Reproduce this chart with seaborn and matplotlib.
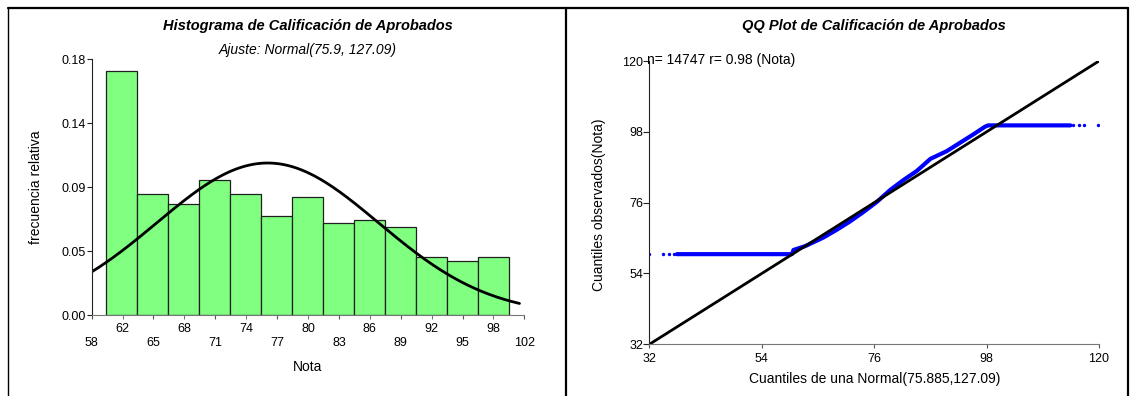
import matplotlib
matplotlib.use("Agg")
import matplotlib.pyplot as plt
import seaborn as sns
import numpy as np
import pandas as pd
from matplotlib.lines import Line2D

# --- Histogram (relative frequency per class) ---
bin_start = 59.48
bin_width = 3.15
rel_freq = [0.172, 0.085, 0.078, 0.095, 0.085, 0.070, 0.083,
            0.065, 0.067, 0.062, 0.041, 0.038, 0.041]
nota_tick_labels = ["58", "62", "65", "68", "71", "74", "77", "80",
                    "83", "86", "89", "92", "95", "98", "102"]
freq_tick_labels = ["0.00", "0.05", "0.09", "0.14", "0.18"]

# fitted normal shown over the histogram
fit_mean = 75.9
fit_var = 127.09
fit_peak = 0.107
fit_from, fit_to = 58, 101.5

# --- QQ plot ---
qq_band_x = [37.4, 59.9, 60.2, 62.5, 66.1, 68.7, 71.3, 73.9, 76.5, 79.1,
             81.7, 84.3, 87.0, 90.2, 92.8, 95.4, 97.7, 98.3, 114.4]
qq_band_y = [60.0, 60.0, 61.3, 62.5, 65.2, 67.6, 70.2, 73.1, 76.2, 79.9,
             83.0, 85.8, 89.6, 92.0, 94.6, 97.2, 99.6, 100.0, 100.0]
qq_dots_x = [32.0, 34.6, 35.9, 36.9, 115.0, 116.0, 117.1, 119.8]
qq_dots_y = [60, 60, 60, 60, 100, 100, 100, 100]
ref_line = [32, 120]
qq_ticks = [32, 54, 76, 98, 120]

sns.set_style("white")
plt.rcParams['font.family'] = ['Liberation Sans', 'DejaVu Sans']
plt.rcParams['text.color'] = 'black'
plt.rcParams['axes.labelcolor'] = 'black'
plt.rcParams['xtick.labelcolor'] = 'black'
plt.rcParams['ytick.labelcolor'] = 'black'

W, H = 1135, 396
fig = plt.figure(figsize=(W / 100, H / 100), dpi=100)

# panel frames
line_kw = dict(color="black", transform=fig.transFigure)
fig.add_artist(Line2D([8 / W, 1128 / W], [1 - 7.5 / H] * 2, lw=1.6, **line_kw))
fig.add_artist(Line2D([8.3 / W] * 2, [0, 1 - 7.5 / H], lw=1.0, **line_kw))
fig.add_artist(Line2D([565.7 / W] * 2, [0, 1 - 7.5 / H], lw=1.6, **line_kw))
fig.add_artist(Line2D([1128 / W] * 2, [0, 1 - 7.5 / H], lw=1.6, **line_kw))

tick_fs = 9
lab_fs = 10

# ---------------- Histogram ----------------
ax1 = fig.add_axes([91.6 / W, 1 - 315 / H, 432.8 / W, 255.7 / H])
edges = bin_start + bin_width * np.arange(len(rel_freq) + 1)
hist_df = pd.DataFrame({"nota": (edges[:-1] + edges[1:]) / 2, "frec": rel_freq})
sns.histplot(data=hist_df, x="nota", weights="frec", bins=list(edges), ax=ax1,
             color="#80ff80", alpha=1, edgecolor="#202020", linewidth=0.9)

xs = np.linspace(fit_from, fit_to, 300)
ys = fit_peak * np.exp(-(xs - fit_mean) ** 2 / (2 * fit_var))
sns.lineplot(x=xs, y=ys, ax=ax1, color="black", lw=2.0)

ax1.set_xlim(58, 102)
ax1.set_ylim(0, 0.18)
pos = np.linspace(58, 102, len(nota_tick_labels))
ax1.set_xticks(pos[0::2])
ax1.set_xticklabels(nota_tick_labels[0::2], fontsize=tick_fs)
ax1.set_xticks(pos[1::2], minor=True)
ax1.set_xticklabels(nota_tick_labels[1::2], minor=True, fontsize=tick_fs)
ax1.tick_params(axis="x", which="major", length=3, pad=13, color="#555555")
ax1.tick_params(axis="x", which="minor", length=3, pad=3, color="#555555")
ax1.set_yticks(np.linspace(0, 0.18, 5))
ax1.set_yticklabels(freq_tick_labels, fontsize=tick_fs)
ax1.tick_params(axis="y", length=3.5, pad=0.5, color="#222222")
ax1.tick_params(axis="both", bottom=True, left=True, which="both")

ax1.set_xlabel("Nota", fontsize=lab_fs)
ax1.xaxis.set_label_coords(0.5, -0.202)
ax1.xaxis.label.set_va("center")
ax1.set_ylabel("frecuencia relativa", fontsize=lab_fs)
ax1.yaxis.set_label_coords(-0.1285, 0.5)
ax1.yaxis.label.set_va("center")

for s in ["top", "right"]:
    ax1.spines[s].set_visible(False)
ax1.spines["left"].set_color("#222222")
ax1.spines["bottom"].set_color("#777777")
ax1.spines["left"].set_linewidth(0.8)
ax1.spines["bottom"].set_linewidth(0.8)

ax1.text(0.5, 1.130, "Histograma de Calificación de Aprobados", transform=ax1.transAxes,
         ha="center", va="center", fontsize=10.5, fontweight="bold", fontstyle="italic")
ax1.text(0.5, 1.036, "Ajuste: Normal(75.9, 127.09)", transform=ax1.transAxes,
         ha="center", va="center", fontsize=10, fontstyle="italic")

# ---------------- QQ plot ----------------
ax2 = fig.add_axes([649.4 / W, 1 - 344.3 / H, 449.6 / W, 283.3 / H])
sns.lineplot(x=qq_band_x, y=qq_band_y, ax=ax2, sort=False, estimator=None,
             color="#0000ff", lw=3.0, solid_capstyle="round")
sns.scatterplot(x=qq_dots_x, y=qq_dots_y, ax=ax2, color="#0000ff", s=6,
                linewidth=0)
sns.lineplot(x=ref_line, y=ref_line, ax=ax2, color="black", lw=2.0)

ax2.set_xlim(32, 120)
ax2.set_ylim(32, 120)
ax2.set_xticks(qq_ticks)
ax2.set_xticklabels([str(t) for t in qq_ticks], fontsize=tick_fs)
ax2.set_yticks(qq_ticks)
ax2.set_yticklabels([str(t) for t in qq_ticks], fontsize=tick_fs)
ax2.tick_params(axis="x", length=3, pad=3.5, color="#555555", bottom=True)
ax2.tick_params(axis="y", length=4, pad=0.5, color="#222222", left=True)

ax2.set_xlabel("Cuantiles de una Normal(75.885,127.09)", fontsize=lab_fs)
ax2.xaxis.set_label_coords(0.5, -0.1225)
ax2.xaxis.label.set_va("center")
ax2.set_ylabel("Cuantiles observados(Nota)", fontsize=lab_fs)
ax2.yaxis.set_label_coords(-0.111, 0.492)
ax2.yaxis.label.set_va("center")

for s in ["top", "right"]:
    ax2.spines[s].set_visible(False)
ax2.spines["left"].set_color("#222222")
ax2.spines["bottom"].set_color("#777777")
ax2.spines["left"].set_linewidth(0.8)
ax2.spines["bottom"].set_linewidth(0.8)

ax2.text(0.5, 1.1235, "QQ Plot de Calificación de Aprobados", transform=ax2.transAxes,
         ha="center", va="center", fontsize=10.5, fontweight="bold", fontstyle="italic")
ax2.annotate("n= 14747 r= 0.98 (Nota)", xy=(0, 1), xycoords="axes fraction",
             xytext=(-1.5, 0.5), textcoords="offset points",
             ha="left", va="center", fontsize=lab_fs)

fig.savefig("out.png", dpi=100)
